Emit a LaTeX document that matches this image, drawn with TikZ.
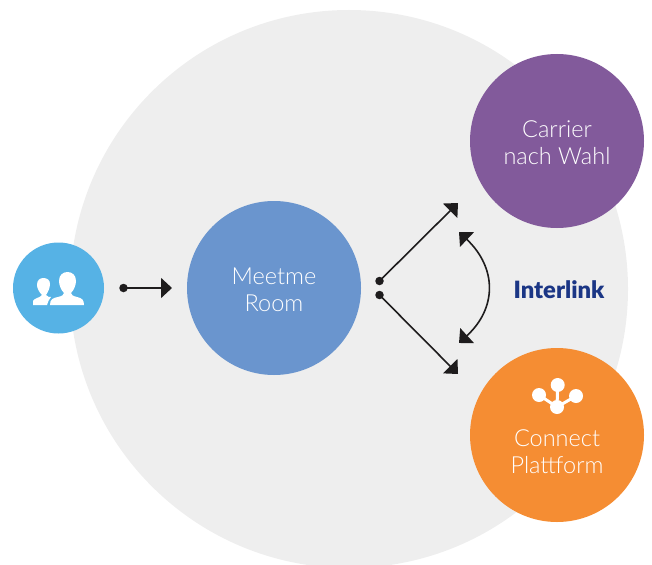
\documentclass[tikz,border=0pt]{standalone}
\usepackage{fontspec}
\setmainfont{Lato Light}
\newfontfamily\boldfont{Lato Black}
\usetikzlibrary{arrows.meta}
\definecolor{areagrey}{HTML}{EEEEEE}
\definecolor{userblue}{HTML}{56B2E5}
\definecolor{roomblue}{HTML}{6A95CE}
\definecolor{carrierpurple}{HTML}{825A9B}
\definecolor{connectorange}{HTML}{F58D33}
\definecolor{linknavy}{HTML}{1B3685}
\definecolor{arrowblack}{HTML}{1E1C1D}
\tikzset{
  disc/.style={circle,minimum size=174pt,inner sep=0pt},
  caption/.style={align=center,text=white,font=\fontsize{23.5}{27}\selectfont},
  hub/.style={circle,fill=white,minimum size=14pt,inner sep=0pt},
  dot/.style={circle,fill=arrowblack,minimum size=8.5pt,inner sep=0pt},
  flow/.style={draw=arrowblack,line width=1.6pt,-{Triangle[length=11pt,width=20pt]}}
}
\begin{document}
\begin{tikzpicture}[x=1pt,y=-1pt]
  \useasboundingbox (0,0) rectangle (652,564);
  \node (area)    at (349,289) [circle,fill=areagrey,minimum size=558pt,inner sep=0pt] {};
  \node (user)    at (58.5,288)  [disc,fill=userblue,minimum size=91pt] {};
  \node (room)    at (274,288) [disc,fill=roomblue] {};
  \node (carrier) at (557,141) [disc,fill=carrierpurple] {};
  \node (connect) at (557,435) [disc,fill=connectorange] {};
  \node (roomtext)    at (274,290) [caption] {Meetme\\Room};
  \node (carriertext) at (557,143) [caption] {Carrier\\nach Wahl};
  \node (connecttext) at (557,452) [caption] {Connect\\Plattform};
  \node (interlink) at (559,289.5) [text=linknavy,font=\boldfont\fontsize{23.8}{26}\selectfont] {Interlink};
  % icon of the two users
  \fill[white] (33,305) -- (33,301) .. controls (34,298) and (40,298) .. (42,295)
    .. controls (39,292) and (37,288) .. (37,285) .. controls (37,280) and (40,278) .. (43.5,278)
    .. controls (47,278) and (50,280) .. (50,284) .. controls (50,288) and (48,292) .. (46,295)
    .. controls (47,297) and (50,297) .. (51,297) .. controls (49,299) and (48,302) .. (47,305) -- cycle;
  \fill[white] (50,305) .. controls (50,299) and (53,298) .. (58,297) .. controls (62,296) and (64,295) .. (64,293)
    .. controls (61,290) and (59,285) .. (59,281) .. controls (59,275) and (63,272) .. (67.5,272)
    .. controls (72,272) and (76,275) .. (76,281) .. controls (76,285) and (74,290) .. (71,293)
    .. controls (71,295) and (73,296) .. (77,297) .. controls (82,298) and (84,300) .. (84,305) -- cycle;
  % icon of the platform
  \node (hubtop)    at (557.7,385) [hub] {};
  \node (hubleft)   at (539,395)   [hub] {};
  \node (hubright)  at (576,396)   [hub] {};
  \node (hubbottom) at (557,407)   [hub] {};
  \draw[white,line width=3pt] (hubbottom.center) -- (hubtop.center);
  \draw[white,line width=3pt] (hubbottom.center) -- (hubleft.center);
  \draw[white,line width=3pt] (hubbottom.center) -- (hubright.center);
  % arrows
  \node (startuser)  at (123.5,288) [dot] {};
  \node (startup)    at (379.5,281) [dot] {};
  \node (startdown)  at (379.5,295) [dot] {};
  \coordinate (enduser)   at (172,288);
  \coordinate (endup)     at (458,203);
  \coordinate (enddown)   at (458,374);
  \coordinate (linkup)    at (459,232);
  \coordinate (linkdown)  at (459,343);
  \draw[flow] (startuser.center) -- (enduser);
  \draw[flow] (startup.center) -- (endup);
  \draw[flow] (startdown.center) -- (enddown);
  \draw[flow,{Triangle[length=11pt,width=20pt]}-{Triangle[length=11pt,width=20pt]}] (linkup)
  .. controls (497,268) and (497,308) .. (linkdown);
\end{tikzpicture}
\end{document}
